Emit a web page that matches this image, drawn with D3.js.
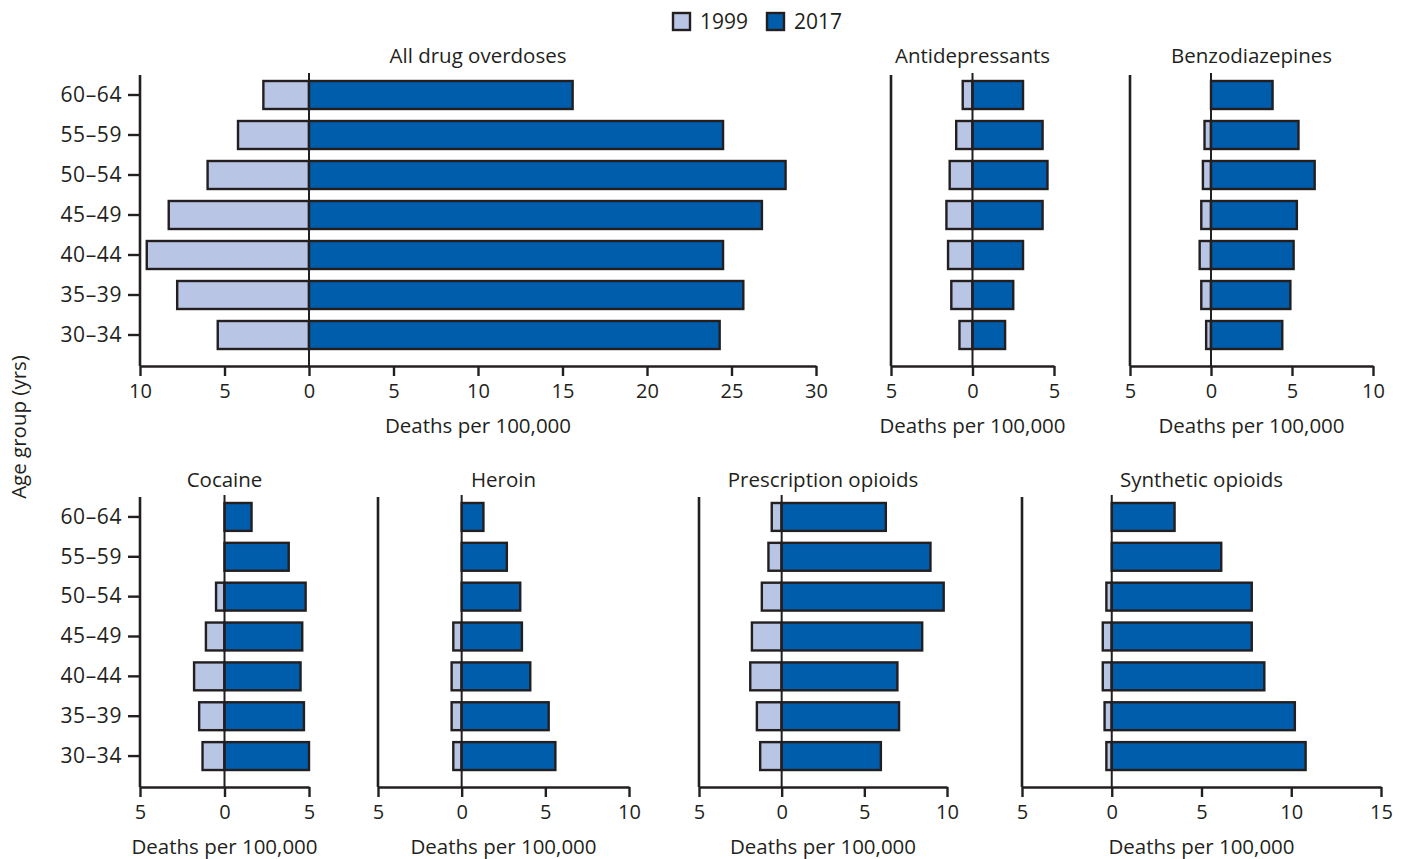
<!DOCTYPE html>
<html>
<head>
<meta charset="utf-8">
<script src="https://cdn.jsdelivr.net/npm/d3@7"></script>
<style>
  html, body { margin: 0; padding: 0; background: #fff; }
  svg { display: block; }
  text { font-family: "Open Sans", "Noto Sans", sans-serif; fill: #231f20; }
</style>
</head>
<body>
<svg id="chart" width="1401" height="859"></svg>
<script>
// Age groups, oldest at top
const ageGroups = ["60–64", "55–59", "50–54", "45–49", "40–44", "35–39", "30–34"];
const years = ["1999", "2017"];

// Deaths per 100,000 by drug, in ageGroups order
const allDrug1999 = [2.7, 4.2, 6.0, 8.3, 9.6, 7.8, 5.4];
const allDrug2017 = [15.6, 24.5, 28.2, 26.8, 24.5, 25.7, 24.3];

const antidep1999 = [0.6, 1.0, 1.4, 1.6, 1.5, 1.3, 0.8];
const antidep2017 = [3.1, 4.3, 4.6, 4.3, 3.1, 2.5, 2.0];

const benzo1999 = [0, 0.4, 0.5, 0.6, 0.7, 0.6, 0.3];
const benzo2017 = [3.8, 5.4, 6.4, 5.3, 5.1, 4.9, 4.4];

const cocaine1999 = [0, 0, 0.5, 1.1, 1.8, 1.5, 1.3];
const cocaine2017 = [1.6, 3.8, 4.8, 4.6, 4.5, 4.7, 5.0];

const heroin1999 = [0, 0, 0, 0.5, 0.6, 0.6, 0.5];
const heroin2017 = [1.3, 2.7, 3.5, 3.6, 4.1, 5.2, 5.6];

const rxOpioid1999 = [0.6, 0.8, 1.2, 1.8, 1.9, 1.5, 1.3];
const rxOpioid2017 = [6.3, 9.0, 9.8, 8.5, 7.0, 7.1, 6.0];

const synthOpioid1999 = [0, 0, 0.3, 0.5, 0.5, 0.4, 0.3];
const synthOpioid2017 = [3.5, 6.1, 7.8, 7.8, 8.5, 10.2, 10.8];

// Axis tick values per panel
const ticksAllDrug = [-10, -5, 0, 5, 10, 15, 20, 25, 30];
const ticksAntidep = [-5, 0, 5];
const ticksBenzo = [-5, 0, 5, 10];
const ticksCocaine = [-5, 0, 5];
const ticksHeroin = [-5, 0, 5, 10];
const ticksRx = [-5, 0, 5, 10];
const ticksSynth = [-5, 0, 5, 10, 15];

const axisTitle = "Deaths per 100,000";

const colors = { "1999": "#b9c5e4", "2017": "#005dab" };
const ink = "#231f20";

// Two rows of small multiples
const rows = [
  { top: 75, axisY: 366, titleY: 63 },
  { top: 497, axisY: 787, titleY: 487 }
];

const panels = [
  { title: "All drug overdoses", v99: allDrug1999, v17: allDrug2017, ticks: ticksAllDrug, px: [140, 816], row: 0, labels: true },
  { title: "Antidepressants", v99: antidep1999, v17: antidep2017, ticks: ticksAntidep, px: [891, 1054], row: 0 },
  { title: "Benzodiazepines", v99: benzo1999, v17: benzo2017, ticks: ticksBenzo, px: [1130, 1373], row: 0 },
  { title: "Cocaine", v99: cocaine1999, v17: cocaine2017, ticks: ticksCocaine, px: [140, 309], row: 1, labels: true },
  { title: "Heroin", v99: heroin1999, v17: heroin2017, ticks: ticksHeroin, px: [378, 629], row: 1 },
  { title: "Prescription opioids", v99: rxOpioid1999, v17: rxOpioid2017, ticks: ticksRx, px: [699, 947], row: 1 },
  { title: "Synthetic opioids", v99: synthOpioid1999, v17: synthOpioid2017, ticks: ticksSynth, px: [1022, 1381], row: 1 }
];

const svg = d3.select("#chart");

panels.forEach(p => {
  const r = rows[p.row];
  const x = d3.scaleLinear().domain(d3.extent(p.ticks)).range(p.px);
  const y = d3.scaleBand().domain(ageGroups)
    .range([r.top, r.axisY - 11])
    .paddingInner(0.3).paddingOuter(0.15);

  const g = svg.append("g");

  // 1999 rates extend left of zero, 2017 rates to the right
  const rows99 = ageGroups.map((a, i) => ({ age: a, v: p.v99[i] })).filter(d => d.v > 0);
  const rows17 = ageGroups.map((a, i) => ({ age: a, v: p.v17[i] }));

  g.selectAll("rect.y1999").data(rows99).join("rect")
    .attr("class", "y1999")
    .attr("x", d => x(-d.v))
    .attr("y", d => y(d.age))
    .attr("width", d => x(0) - x(-d.v))
    .attr("height", y.bandwidth())
    .attr("fill", colors["1999"])
    .attr("stroke", ink).attr("stroke-width", 2.4);

  g.selectAll("rect.y2017").data(rows17).join("rect")
    .attr("class", "y2017")
    .attr("x", x(0))
    .attr("y", d => y(d.age))
    .attr("width", d => x(d.v) - x(0))
    .attr("height", y.bandwidth())
    .attr("fill", colors["2017"])
    .attr("stroke", ink).attr("stroke-width", 2.4);

  // Zero line
  g.append("line")
    .attr("x1", x(0)).attr("x2", x(0))
    .attr("y1", r.top - 2).attr("y2", r.axisY)
    .attr("stroke", ink).attr("stroke-width", 2);

  // Bottom axis, values shown as magnitudes on both sides of zero
  const xAxis = d3.axisBottom(x).tickValues(p.ticks)
    .tickFormat(d => Math.abs(d)).tickSize(10).tickSizeOuter(0).tickPadding(8);
  const ax = g.append("g").attr("transform", `translate(0,${r.axisY})`).call(xAxis);
  ax.select(".domain").attr("stroke", ink).attr("stroke-width", 2.6);
  ax.selectAll(".tick line").attr("stroke", ink).attr("stroke-width", 2.4);
  ax.selectAll(".tick text").attr("font-size", 20).attr("fill", ink)
    .attr("font-family", '"Open Sans", sans-serif');

  // Left axis
  const yAxis = d3.axisLeft(y).tickSize(p.labels ? 12 : 0).tickSizeOuter(0).tickPadding(6);
  const ay = g.append("g").attr("transform", `translate(${p.px[0]},0)`).call(yAxis);
  ay.select(".domain").attr("d", `M0,${r.top}V${r.axisY}`)
    .attr("stroke", ink).attr("stroke-width", 2.6);
  ay.selectAll(".tick line").attr("stroke", ink).attr("stroke-width", 2.4);
  if (p.labels) {
    ay.selectAll(".tick text").attr("font-size", 21).attr("fill", ink)
      .attr("letter-spacing", 0.6)
      .attr("font-family", '"Open Sans", sans-serif');
  } else {
    ay.selectAll(".tick text").remove();
  }

  const cx = (p.px[0] + p.px[1]) / 2;
  g.append("text").attr("x", cx).attr("y", r.titleY)
    .attr("text-anchor", "middle").attr("font-size", 20.5).text(p.title);
  g.append("text").attr("x", cx).attr("y", r.axisY + 67)
    .attr("text-anchor", "middle").attr("font-size", 20.5).text(axisTitle);
});

// Shared y-axis title
svg.append("text")
  .attr("transform", "translate(26,427) rotate(-90)")
  .attr("text-anchor", "middle").attr("font-size", 20.5)
  .text("Age group (yrs)");

// Legend
const legend = svg.append("g").attr("transform", "translate(672,12)");
const legX = d3.scaleOrdinal().domain(years).range([0, 94]);
const item = legend.selectAll("g").data(years).join("g")
  .attr("transform", d => `translate(${legX(d)},0)`);
item.append("rect").attr("x", 1).attr("y", 1).attr("width", 17).attr("height", 17)
  .attr("fill", d => colors[d]).attr("stroke", ink).attr("stroke-width", 2.4);
item.append("text").attr("x", 28).attr("y", 17).attr("font-size", 21).text(d => d);
</script>
</body>
</html>
